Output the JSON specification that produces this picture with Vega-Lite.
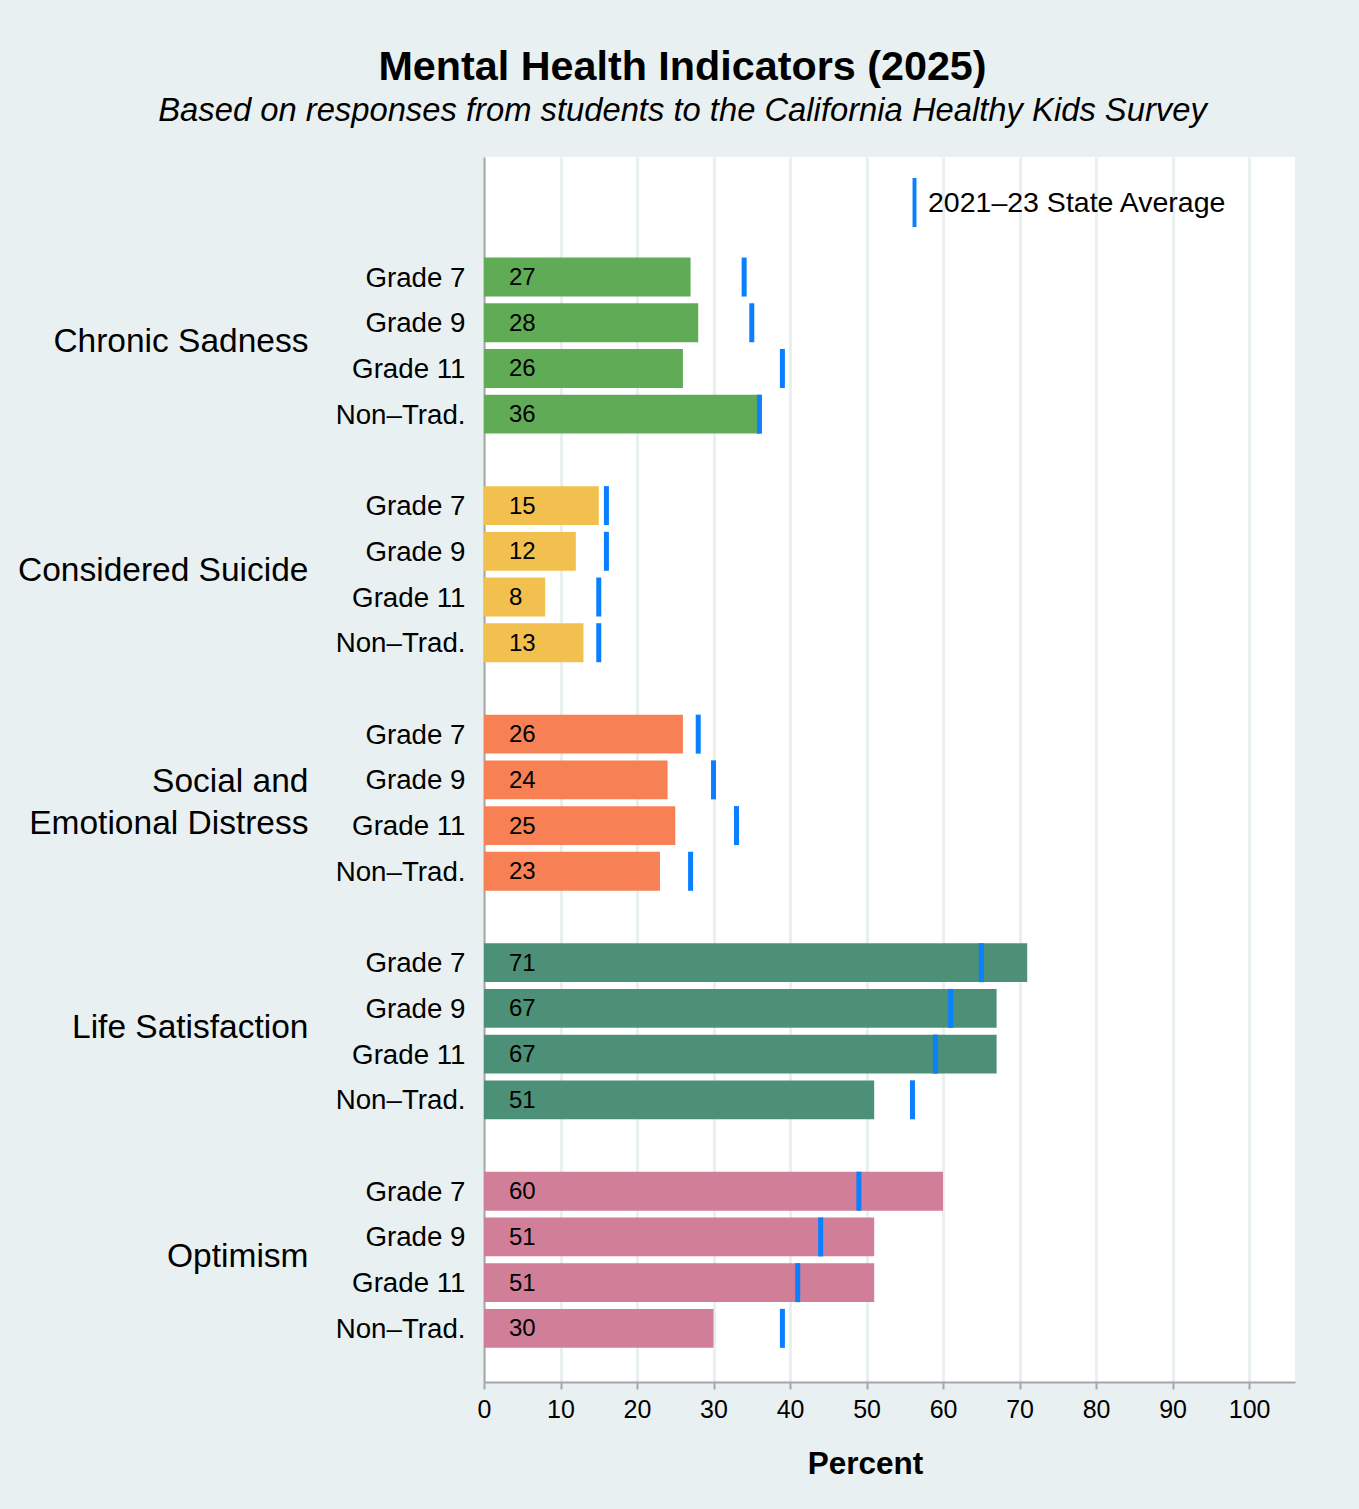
{
  "$schema": "https://vega.github.io/schema/vega-lite/v6.json",
  "width": 811,
  "height": 1225,
  "autosize": {"type": "none"},
  "padding": {"left": 484, "top": 157, "right": 64, "bottom": 127},
  "background": "#E9F0F2",
  "config": {
    "font": "Liberation Sans",
    "view": {"fill": "white", "stroke": null}
  },
  "title": {
    "text": "Mental Health Indicators (2025)",
    "subtitle": "Based on responses from students to the California Healthy Kids Survey",
    "anchor": "middle",
    "frame": "group",
    "dx": -207,
    "fontSize": 41.3,
    "fontWeight": "bold",
    "color": "#000000",
    "subtitleFontSize": 32.75,
    "subtitleFontStyle": "italic",
    "subtitleColor": "#000000",
    "subtitlePadding": 7,
    "offset": 29
  },
  "datasets": {
    "rates": [
      {"key": "Chronic Sadness|Grade 7", "indicator": "Chronic Sadness", "grade": "Grade 7", "value": 27, "state": 34},
      {"key": "Chronic Sadness|Grade 9", "indicator": "Chronic Sadness", "grade": "Grade 9", "value": 28, "state": 35},
      {"key": "Chronic Sadness|Grade 11", "indicator": "Chronic Sadness", "grade": "Grade 11", "value": 26, "state": 39},
      {"key": "Chronic Sadness|Non–Trad.", "indicator": "Chronic Sadness", "grade": "Non–Trad.", "value": 36, "state": 36},
      {"key": "Considered Suicide|Grade 7", "indicator": "Considered Suicide", "grade": "Grade 7", "value": 15, "state": 16},
      {"key": "Considered Suicide|Grade 9", "indicator": "Considered Suicide", "grade": "Grade 9", "value": 12, "state": 16},
      {"key": "Considered Suicide|Grade 11", "indicator": "Considered Suicide", "grade": "Grade 11", "value": 8, "state": 15},
      {"key": "Considered Suicide|Non–Trad.", "indicator": "Considered Suicide", "grade": "Non–Trad.", "value": 13, "state": 15},
      {"key": "Social and Emotional Distress|Grade 7", "indicator": "Social and Emotional Distress", "grade": "Grade 7", "value": 26, "state": 28},
      {"key": "Social and Emotional Distress|Grade 9", "indicator": "Social and Emotional Distress", "grade": "Grade 9", "value": 24, "state": 30},
      {"key": "Social and Emotional Distress|Grade 11", "indicator": "Social and Emotional Distress", "grade": "Grade 11", "value": 25, "state": 33},
      {"key": "Social and Emotional Distress|Non–Trad.", "indicator": "Social and Emotional Distress", "grade": "Non–Trad.", "value": 23, "state": 27},
      {"key": "Life Satisfaction|Grade 7", "indicator": "Life Satisfaction", "grade": "Grade 7", "value": 71, "state": 65},
      {"key": "Life Satisfaction|Grade 9", "indicator": "Life Satisfaction", "grade": "Grade 9", "value": 67, "state": 61},
      {"key": "Life Satisfaction|Grade 11", "indicator": "Life Satisfaction", "grade": "Grade 11", "value": 67, "state": 59},
      {"key": "Life Satisfaction|Non–Trad.", "indicator": "Life Satisfaction", "grade": "Non–Trad.", "value": 51, "state": 56},
      {"key": "Optimism|Grade 7", "indicator": "Optimism", "grade": "Grade 7", "value": 60, "state": 49},
      {"key": "Optimism|Grade 9", "indicator": "Optimism", "grade": "Grade 9", "value": 51, "state": 44},
      {"key": "Optimism|Grade 11", "indicator": "Optimism", "grade": "Grade 11", "value": 51, "state": 41},
      {"key": "Optimism|Non–Trad.", "indicator": "Optimism", "grade": "Non–Trad.", "value": 30, "state": 39}
    ],
    "groups": [
      {"indicator": "Chronic Sadness"},
      {"indicator": "Considered Suicide"},
      {"indicator": "Social and Emotional Distress"},
      {"indicator": "Life Satisfaction"},
      {"indicator": "Optimism"}
    ]
  },
  "layer": [
    {
      "data": {"name": "rates"},
      "encoding": {
        "y": {
          "field": "key",
          "type": "nominal",
          "scale": {
            "type": "band",
            "domain": [
              "top1", "top2",
              "Chronic Sadness|Grade 7", "Chronic Sadness|Grade 9", "Chronic Sadness|Grade 11", "Chronic Sadness|Non–Trad.",
              "gap1",
              "Considered Suicide|Grade 7", "Considered Suicide|Grade 9", "Considered Suicide|Grade 11", "Considered Suicide|Non–Trad.",
              "gap2",
              "Social and Emotional Distress|Grade 7", "Social and Emotional Distress|Grade 9", "Social and Emotional Distress|Grade 11", "Social and Emotional Distress|Non–Trad.",
              "gap3",
              "Life Satisfaction|Grade 7", "Life Satisfaction|Grade 9", "Life Satisfaction|Grade 11", "Life Satisfaction|Non–Trad.",
              "gap4",
              "Optimism|Grade 7", "Optimism|Grade 9", "Optimism|Grade 11", "Optimism|Non–Trad."
            ],
            "paddingInner": 0.15,
            "paddingOuter": 0.475,
            "align": 0.212
          },
          "axis": {
            "title": null,
            "orient": "left",
            "ticks": false,
            "tickSize": 0,
            "labelPadding": 19,
            "labelFontSize": 27.7,
            "labelColor": "#000000",
            "labelOffset": 1.5,
            "labelExpr": "indexof(datum.value, '|') > 0 ? split(datum.value, '|')[1] : ''",
            "domain": true,
            "domainColor": "#A6A6A6",
            "domainWidth": 2,
            "grid": false
          }
        }
      },
      "layer": [
        {
          "mark": {"type": "bar"},
          "encoding": {
            "x": {
              "field": "value",
              "type": "quantitative",
              "scale": {"domain": [0, 106], "nice": false},
              "axis": {
                "values": [0, 10, 20, 30, 40, 50, 60, 70, 80, 90, 100],
                "title": "Percent",
                "titleFontSize": 31.5,
                "titleFontWeight": "bold",
                "titleColor": "#000000",
                "titleX": 381,
                "titlePadding": 26,
                "labelFontSize": 25,
                "labelColor": "#000000",
                "labelPadding": 8,
                "labelFlush": false,
                "tickColor": "#A6A6A6",
                "tickSize": 7,
                "tickWidth": 2,
                "domainColor": "#A6A6A6",
                "domainWidth": 2,
                "grid": true,
                "gridColor": "#E8F0F2",
                "gridWidth": 3
              }
            },
            "color": {
              "field": "indicator",
              "type": "nominal",
              "scale": {
                "domain": ["Chronic Sadness", "Considered Suicide", "Social and Emotional Distress", "Life Satisfaction", "Optimism"],
                "range": ["#60AC56", "#F2C04E", "#F78154", "#4D9078", "#D17E99"]
              },
              "legend": null
            }
          }
        },
        {
          "mark": {"type": "tick", "thickness": 5, "size": 39, "opacity": 1},
          "encoding": {
            "x": {"field": "state", "type": "quantitative"},
            "fill": {
              "datum": "2021–23 State Average",
              "type": "nominal",
              "scale": {"range": ["#0A7FFF"]},
              "legend": {
                "title": null,
                "orient": "none",
                "legendX": 406,
                "legendY": 21,
                "padding": 0,
                "symbolType": "M-0.08,-1H0.08V1H-0.08Z",
                "symbolSize": 2401,
                "symbolStrokeWidth": 0,
                "symbolOpacity": 1,
                "labelFontSize": 28.5,
                "labelColor": "#000000",
                "labelOffset": -11,
                "labelLimit": 0
              }
            }
          }
        },
        {
          "mark": {"type": "text", "align": "left", "baseline": "middle", "dx": 25, "dy": 1, "fontSize": 24, "color": "#000000"},
          "encoding": {
            "x": {"datum": 0, "type": "quantitative"},
            "text": {"field": "value", "type": "quantitative"}
          }
        }
      ]
    },
    {
      "data": {"name": "groups"},
      "mark": {"type": "text", "text": ""},
      "encoding": {
        "y": {
          "field": "indicator",
          "type": "nominal",
          "scale": {
            "type": "band",
            "domain": ["Chronic Sadness", "Considered Suicide", "Social and Emotional Distress", "Life Satisfaction", "Optimism"],
            "paddingInner": 0,
            "paddingOuter": 0.1805,
            "align": 0.9
          },
          "axis": {
            "title": null,
            "orient": "left",
            "offset": 176,
            "domain": false,
            "ticks": false,
            "tickSize": 0,
            "labelPadding": 0,
            "labelFontSize": 33.5,
            "labelColor": "#000000",
            "labelLimit": 0,
            "labelLineHeight": 42,
            "labelOffset": {"condition": {"test": "datum.value == 'Social and Emotional Distress'", "value": -20}, "value": -3},
            "grid": false,
            "labelExpr": "datum.value == 'Social and Emotional Distress' ? ['Social and', 'Emotional Distress'] : datum.value"
          }
        }
      }
    }
  ],
  "resolve": {"scale": {"y": "independent"}, "axis": {"y": "independent"}}
}
